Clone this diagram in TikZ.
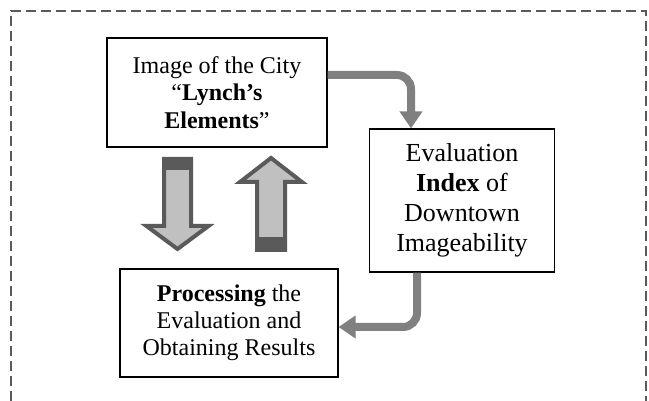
\documentclass[tikz,border=0pt]{standalone}
\usepackage{fontspec}
\setmainfont{Liberation Serif}
\usetikzlibrary{arrows.meta}

\definecolor{flowgray}{HTML}{808080}
\definecolor{blockfill}{HTML}{C0C0C0}
\definecolor{blockline}{HTML}{5A5A5A}

\tikzset{
	stagebox/.style={draw=black, line width=0.6pt, align=center, inner sep=0pt,
		font=\fontsize{12}{13.6}\selectfont},
	flow/.style={draw=flowgray, line width=4pt, rounded corners=7pt,
		-{Triangle[width=11pt,length=8.5pt]}},
	blockarrow/.style={fill=blockfill, draw=blockline, line width=2pt},
	blockcap/.style={fill=blockline, draw=none}
}

\begin{document}
\begin{tikzpicture}[x=0.5pt, y=-0.5pt]
		\useasboundingbox (0,0) rectangle (649,401);

		% dashed frame, bottom side is cut off
		\draw[blockline, line width=0.7pt, dash pattern=on 5pt off 2.5pt] (11,401) -- (11,11) -- (646,11) -- (646,401);

		\node[stagebox, minimum width=110pt, minimum height=54.5pt] (img) at (217,92.5)
			{Image of the City\\“\textbf{Lynch’s}\\\textbf{Elements}”};
		\node[stagebox, minimum width=92.5pt, minimum height=71.5pt,
			font=\fontsize{13}{15}\selectfont] (idx) at (462,200.5)
			{Evaluation\\\textbf{Index} of\\Downtown\\Imageability};
		\node[stagebox, minimum width=109pt, minimum height=54pt] (proc) at (229,323)
			{\textbf{Processing} the\\Evaluation and\\Obtaining Results};

		\draw[flow] ([yshift=8.75pt]img.east) -| ([xshift=-25.5pt]idx.north);
		\draw[flow] ([xshift=-22.5pt]idx.south) |- ([yshift=-2pt]proc.east);

		% block arrows between image and processing
		\def\dx{177.5}
		\def\ux{271}
		\draw[blockarrow] (\dx-13.5,159) -- (\dx+13.5,159) -- (\dx+13.5,226) -- (\dx+31,226)
			-- (\dx,249) -- (\dx-31,226) -- (\dx-13.5,226) -- cycle;
		\fill[blockcap] (\dx-15.5,157) rectangle (\dx+15.5,170);
		\draw[blockarrow] (\ux-14,250) -- (\ux+14,250) -- (\ux+14,182) -- (\ux+31,182)
			-- (\ux,158) -- (\ux-31,182) -- (\ux-14,182) -- cycle;
		\fill[blockcap] (\ux-16,237) rectangle (\ux+16,252);
	\end{tikzpicture}
\end{document}
